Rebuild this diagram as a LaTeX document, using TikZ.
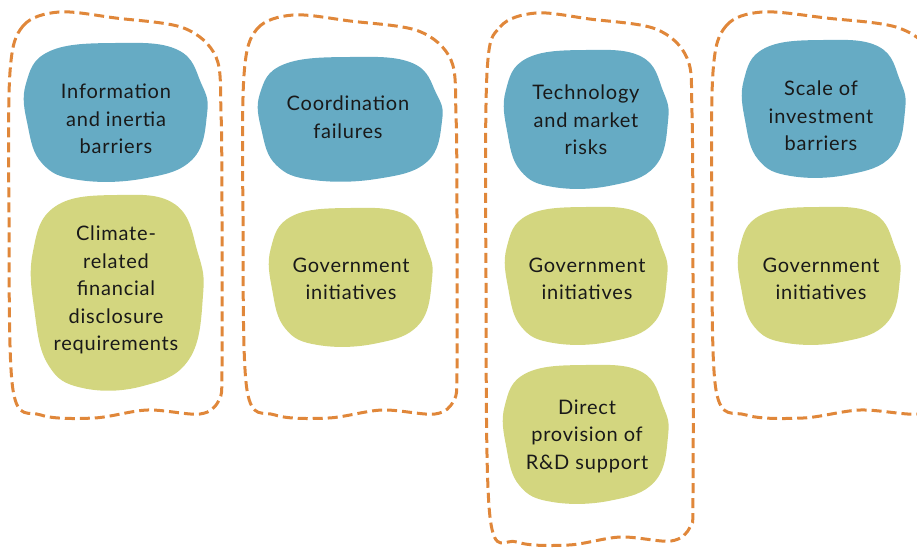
\documentclass[tikz,border=0pt]{standalone}
\usepackage{fontspec}
\setmainfont{Lato}[LetterSpace=4]
\usetikzlibrary{positioning}
\definecolor{seablue}{RGB}{102,171,196}
\definecolor{leafgreen}{RGB}{211,214,127}
\definecolor{rust}{RGB}{224,135,58}
\definecolor{ink}{RGB}{25,25,25}

\tikzset{
  label text/.style={font=\fontsize{20}{27.5}\selectfont,text=ink,align=center,inner sep=0pt},
  group line/.style={rust,line width=3pt,dash pattern=on 10pt off 5pt},
}

% irregular blob inside the box (x1,y1)-(x2,y2)
\newcommand{\blobat}[5]{%
  \pgfmathsetmacro\blobw{#4-#2}\pgfmathsetmacro\blobh{#5-#3}%
  \begin{scope}[shift={(#2,#3)},x=\blobw pt,y=-\blobh pt]
    \fill[#1] plot[smooth cycle,tension=0.7] coordinates {(0.01,0.3) (0.14,0.06) (0.5,0) (0.84,0.05)
      (0.97,0.3) (1,0.52) (0.92,0.85) (0.65,0.99) (0.3,1) (0.1,0.88) (0.02,0.6)};
  \end{scope}}

% dashed outline round one group
\newcommand{\groupline}[4]{%
  \draw[group line] plot[smooth cycle,tension=0.55] coordinates {
    ({#1+1},{#2+60}) ({#1+14},{#2+14}) ({#1+50},{#2}) ({#1+0.5*(#3-#1)},{#2+6})
    ({#1+0.82*(#3-#1)},{#2+16}) ({#3-6},{#2+45}) ({#3-1},{#2+100}) ({#3},{(#2+#4)/2})
    ({#3},{#4-50}) ({#3-3},{#4-18}) ({#3-22},{#4-4}) ({#1+0.65*(#3-#1)},{#4-8})
    ({#1+0.4*(#3-#1)},{#4}) ({#1+0.15*(#3-#1)},{#4-3}) ({#1+4},{#4-28}) ({#1},{(#2+#4)/2})};}

\begin{document}
\begin{tikzpicture}[x=1pt,y=-1pt]
  \useasboundingbox (0,0) rectangle (917,548);
  \clip (0,0) rectangle (917,548);

  \groupline{9}{12}{222}{418}
  \groupline{243}{15}{457}{418}
  \groupline{486}{13}{693}{545}
  \groupline{712}{12}{940}{418}

  \foreach \n/\c/\xa/\ya/\xb/\yb/\cx/\cy/\t in {
    info/seablue/24/43/207/180/116/119/{Information\\and inertia\\barriers},
    disc/leafgreen/31/195/203/388/116/290/{Climate-\\related\\financial\\disclosure\\requirements},
    coord/seablue/258/57/442/180/348/117/{Coordination\\failures},
    gov2/leafgreen/269/208/432/345/351/279/{Government\\initiatives},
    tech/seablue/504/50/668/187/586/120/{Technology\\and market\\risks},
    gov3/leafgreen/505/207/667/343/587/279/{Government\\initiatives},
    rnd/leafgreen/503/365/668/502/587/436/{Direct\\provision of\\R\&D support},
    scale/seablue/742/40/905/176/821/116/{Scale of\\investment\\barriers},
    gov4/leafgreen/738/207/900/343/821/279/{Government\\initiatives}}
  {
    \blobat{\c}{\xa}{\ya}{\xb}{\yb}
    \node[label text] (\n) at (\cx,\cy) {\t};
  }
\end{tikzpicture}
\end{document}
